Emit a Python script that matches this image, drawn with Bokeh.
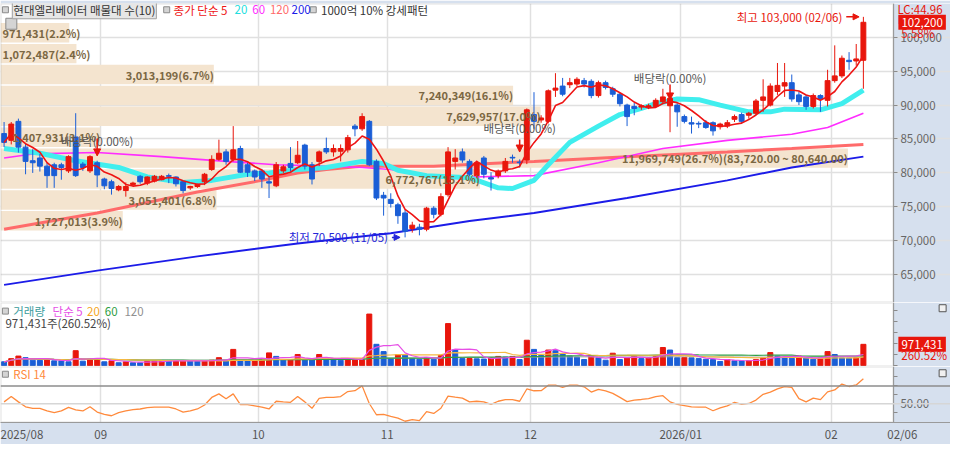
import numpy as np
import pandas as pd
from bokeh.plotting import figure
from bokeh.models import (ColumnDataSource, FixedTicker, NumeralTickFormatter, Label,
                          Span, Range1d, Grid, Arrow, NormalHead, LinearAxis, BoxAnnotation)
from bokeh.layouts import column
from bokeh.embed import file_html
from bokeh.resources import INLINE
from bokeh.core.properties import value

FONT = "Noto Sans CJK KR"

# ---------------- data ----------------
month_start_idx = [0, 14, 36, 54, 74, 95, 116]
month_labels = ["2025/08", "09", "10", "11", "12", "2026/01", "02"]
last_date_label = "02/06"

open_k = [85.8, 84.8, 87.6, 83.8, 81.8, 82.2, 81.0, 81.2, 81.2, 80.3,
          85.3, 81.3, 80.3, 81.5, 79.1, 78.7, 77.5, 77.4, 78.3, 79.5,
          78.5, 78.8, 79.0, 79.6, 79.4, 78.7, 77.8, 78.0, 78.7, 80.5,
          82.0, 83.1, 82.0, 83.6, 81.2, 80.3, 80.3, 78.7, 78.1, 80.3,
          81.4, 81.5, 84.1, 81.2, 81.7, 83.6, 83.1, 83.2, 83.4, 86.9,
          86.5, 87.6, 81.7, 76.7, 76.1, 75.3, 74.1, 71.8, 72.0, 71.7,
          74.8, 73.9, 76.8, 81.7, 83.1, 81.7, 79.6, 82.2, 79.3, 79.6,
          80.3, 82.3, 81.6, 81.9, 88.6, 87.8, 87.6, 92.2, 92.8, 93.0,
          93.1, 93.6, 93.5, 91.4, 93.3, 92.4, 91.6, 90.0, 89.8, 89.7,
          89.7, 89.8, 90.5, 89.9, 90.0, 88.3, 87.4, 87.3, 87.4, 87.4,
          86.8, 86.9, 87.9, 88.6, 88.5, 88.8, 90.7, 90.0, 92.0, 92.8,
          93.3, 91.5, 91.2, 89.8, 91.4, 90.7, 93.6, 94.3, 96.6, 96.5,
          96.6]
high_k = [87.5, 87.5, 88.0, 84.3, 83.5, 82.8, 81.5, 81.5, 81.5, 82.6,
          88.8, 81.6, 82.6, 81.8, 79.3, 79.0, 78.2, 78.6, 78.7, 79.7,
          79.5, 79.7, 79.7, 79.9, 79.5, 78.8, 78.1, 78.4, 80.0, 82.6,
          84.9, 83.5, 86.9, 84.0, 81.5, 80.5, 80.6, 79.4, 81.6, 81.2,
          83.8, 84.7, 84.3, 81.6, 83.3, 85.2, 84.2, 84.2, 85.6, 87.2,
          88.8, 87.8, 82.0, 77.2, 77.0, 75.6, 74.6, 72.8, 72.5, 75.0,
          75.1, 77.0, 83.8, 83.5, 83.6, 82.0, 81.8, 82.5, 80.1, 80.5,
          82.2, 82.7, 82.0, 89.5, 91.9, 88.5, 92.3, 94.7, 94.0, 94.0,
          94.1, 94.0, 93.8, 93.6, 93.6, 92.7, 91.8, 90.2, 90.3, 90.1,
          90.2, 91.0, 92.4, 91.0, 90.3, 88.6, 88.3, 87.6, 87.8, 87.6,
          87.4, 87.8, 88.6, 88.9, 89.0, 90.9, 93.8, 93.2, 96.2, 96.2,
          94.5, 92.0, 91.5, 91.7, 91.6, 95.2, 98.8, 97.3, 97.8, 99.0,
          103.0]
low_k = [83.8, 84.2, 83.0, 79.8, 80.0, 80.2, 77.8, 77.8, 79.0, 80.0,
         79.4, 80.3, 80.0, 77.9, 77.6, 76.8, 77.3, 76.5, 78.0, 78.4,
         78.2, 78.6, 78.9, 78.5, 78.0, 77.0, 77.5, 77.8, 78.2, 80.3,
         81.8, 81.2, 81.7, 80.0, 79.4, 78.8, 77.8, 76.3, 77.9, 80.0,
         80.2, 81.3, 80.5, 78.3, 81.0, 82.8, 82.4, 81.7, 83.0, 85.4,
         86.2, 81.0, 76.0, 73.7, 74.9, 72.5, 70.5, 71.2, 70.8, 71.4,
         73.3, 73.6, 76.5, 80.5, 81.5, 79.5, 79.2, 79.2, 77.4, 79.2,
         80.0, 81.5, 80.8, 81.3, 86.5, 87.4, 87.3, 91.2, 91.3, 92.5,
         92.8, 92.6, 91.0, 91.1, 92.3, 91.2, 89.8, 86.9, 88.5, 89.3,
         89.4, 89.6, 90.2, 86.0, 86.8, 87.3, 85.8, 86.6, 86.5, 85.5,
         86.4, 86.6, 87.5, 87.3, 88.0, 88.5, 89.0, 89.8, 91.5, 91.2,
         90.5, 90.0, 89.3, 89.5, 89.0, 89.8, 93.3, 94.0, 95.2, 95.8,
         92.4]
close_k = [84.5, 87.2, 83.8, 81.7, 81.5, 81.0, 79.6, 79.6, 80.8, 82.4,
           79.6, 80.8, 82.4, 79.7, 78.1, 77.7, 78.0, 78.0, 78.5, 78.7,
           79.4, 79.5, 79.5, 79.5, 78.4, 77.4, 78.0, 78.3, 79.8, 82.0,
           82.9, 81.7, 83.4, 80.1, 80.1, 79.4, 79.1, 78.5, 81.2, 80.9,
           80.8, 82.6, 81.0, 79.1, 83.1, 83.1, 83.6, 83.6, 85.2, 86.5,
           88.3, 81.2, 76.3, 76.3, 75.5, 73.7, 71.4, 72.3, 71.7, 74.8,
           73.9, 76.5, 83.1, 82.2, 81.9, 79.8, 81.5, 79.8, 79.1, 80.3,
           81.7, 82.2, 81.5, 89.3, 87.6, 88.1, 92.1, 92.5, 91.6, 93.3,
           93.8, 93.1, 91.4, 93.3, 92.6, 91.6, 90.2, 88.3, 89.5, 89.9,
           89.9, 90.7, 91.2, 91.0, 89.0, 87.6, 87.2, 87.2, 86.7, 86.2,
           87.2, 87.4, 88.3, 87.6, 88.8, 90.6, 91.2, 92.8, 92.9, 93.3,
           90.9, 90.5, 89.8, 91.4, 90.9, 93.6, 94.3, 96.9, 96.4, 96.8,
           102.2]
volume = [174000, 319000, 436000, 363000, 247000, 240000, 290000, 218000, 215000, 174000,
          682000, 203000, 290000, 300000, 174000, 218000, 131000, 174000, 131000, 128000,
          218000, 220000, 222000, 215000, 220000, 222000, 215000, 212000, 218000, 247000,
          363000, 218000, 740000, 218000, 212000, 218000, 320000, 581000, 421000, 276000,
          280000, 508000, 276000, 270000, 508000, 320000, 315000, 247000, 290000, 295000,
          300000, 2352000, 973000, 639000, 320000, 494000, 485000, 320000, 290000, 363000,
          290000, 465000, 1917000, 726000, 320000, 325000, 310000, 300000, 363000, 420000,
          390000, 420000, 276000, 1159000, 740000, 465000, 711000, 680000, 537000, 435000,
          392000, 276000, 435000, 363000, 247000, 566000, 276000, 363000, 435000, 320000,
          363000, 435000, 827000, 711000, 363000, 370000, 355000, 320000, 290000, 276000,
          189000, 276000, 218000, 215000, 218000, 276000, 348000, 595000, 435000, 377000,
          334000, 435000, 348000, 290000, 348000, 639000, 508000, 348000, 340000, 372878,
          971431]
rsi14 = [52, 58, 52, 46.5, 44.8, 44.8, 41.8, 40, 41.8, 45.8,
         43, 41.8, 46.5, 40.5, 38, 36.4, 40, 41.8, 43.2, 44,
         45.5, 46, 46, 46, 44, 40.4, 41.8, 44, 48.5, 57,
         61, 55.6, 61, 49, 49, 47.5, 46, 44, 52.7, 52,
         51.5, 58, 52, 44.8, 56, 57, 57, 58, 63.6, 64.6,
         70, 50.2, 37.5, 38, 35.7, 33.8, 30.2, 32, 31, 41,
         39, 44.8, 58.5, 57.3, 56.3, 52, 52.7, 52, 49.1, 52.7,
         54.6, 54.6, 52.7, 66.5, 64.5, 64.6, 70.8, 70.8, 68.3, 70.8,
         70.8, 69, 63, 66, 64.5, 61.5, 57, 52.3, 54, 54.7,
         55.6, 58, 59, 52, 49.1, 47.8, 46.3, 46, 46, 42,
         45.2, 47.5, 51.5, 49.1, 50.2, 54, 60.5, 63, 66.6, 69.2,
         68.3, 55.6, 52, 56.3, 54.6, 63.3, 65.4, 72, 69.3, 71,
         78]

# long moving averages (at the listed candle indices)
ma20_idx = [0, 5, 10, 16, 20, 25, 29, 34, 37, 41, 45, 50, 53, 55, 59, 65, 69, 71, 74, 76,
            79, 83, 86, 89, 91, 94, 97, 100, 104, 107, 109, 114, 117, 120]
ma20_k = [83.6, 82.9, 81.8, 80.8, 79.4, 78.6, 78.9, 79.8, 80.0, 80.5, 80.8, 81.7, 81.4, 80.4,
          79.6, 79.3, 77.8, 77.7, 78.9, 81.2, 84.5, 86.9, 88.6, 89.5, 90.2, 90.9, 90.8, 90.0,
          89.0, 89.0, 89.4, 89.3, 90.2, 92.2]
ma60_idx = [0, 4, 13, 22, 31, 38, 45, 50, 54, 59, 65, 74, 83, 92, 101, 110, 115, 120]
ma60_k = [82.2, 82.8, 83.0, 82.4, 81.7, 81.2, 81.0, 80.8, 80.5, 79.6, 79.4, 79.6, 81.5, 83.6,
          84.8, 85.7, 86.7, 88.8]
ma120_idx = [0, 13, 27, 36, 41, 45, 50, 60, 74, 87, 101, 110, 120]
ma120_k = [71.7, 74.1, 77.2, 78.9, 80.0, 80.5, 81.0, 81.0, 81.7, 82.4, 83.1, 83.6, 84.2]
ma200_idx = [0, 13, 27, 41, 54, 65, 74, 87, 101, 110, 120]
ma200_k = [63.5, 65.6, 67.7, 69.6, 71.1, 72.9, 74.1, 76.3, 78.9, 80.8, 82.4]

# volume profile (매물대), top band first
band_bottom = [99120, 96040, 92960, 89880, 86800, 83720, 80640, 77560, 74480, 71400]
band_step = 3080
band_volume = [971431, 1072487, 3013199, 7240349, 7629957, 1407931, 11969749, 6772767, 3051401, 1727013]
band_pct = ["2.2", "2.4", "6.7", "16.1", "17.0", "3.1", "26.7", "15.1", "6.8", "3.9"]

exdiv_idx = [13, 72, 93]
high_idx, high_val, high_date = 120, 103000, "02/06"
low_idx, low_val, low_date = 56, 70500, "11/05"

# ---------------- derived ----------------
n = len(close_k)
idx = np.arange(n)
o = np.array(open_k) * 1000
h = np.array(high_k) * 1000
l = np.array(low_k) * 1000
c = np.array(close_k) * 1000
vol = np.array(volume, dtype=float)

# ---------------- layout constants ----------------
# x is the candle index; the reference plot area spans 908 px, then a 58 px value strip
REF_PLOT_W = 908.0
X0, X1 = -0.5, 124.2
XS = X0 + 966.0 * (X1 - X0) / REF_PLOT_W       # right edge incl. value strip
P_TOP, P_BOT = 104968.0, 60903.0
V_TOP, V_BOT = 2880000.0, -40000.0
R_TOP, R_BOT = 91.8, 28.8
FW = 950
AXIS_BG = "#d6e0ee"
RED = "#e8160c"
BLUE = "#1a5ed6"
GRID = "#e0e0e0"
EDGE = "#9a9a9a"


def ix(px):
    return X0 + px * (X1 - X0) / REF_PLOT_W


def py(px):
    return P_TOP - (px - 3.0) * (P_TOP - P_BOT) / 310.0


def vy(px):
    return V_TOP - (px - 313.0) * (V_TOP - V_BOT) / 67.0


def ry(px):
    return R_TOP - (px - 380.0) * (R_TOP - R_BOT) / 58.0


xr = Range1d(X0, XS)
month_ticks = [m - 0.5 for m in month_start_idx]


def make_fig(fh, yr, top, bottom, yticks, xloc=None):
    p = figure(frame_width=FW, frame_height=fh, x_range=xr, y_range=yr,
               output_backend="svg", toolbar_location=None,
               x_axis_location=xloc, y_axis_location=None,
               min_border_left=0, min_border_right=0,
               min_border_top=top, min_border_bottom=bottom)
    p.grid.visible = False
    p.border_fill_color = AXIS_BG
    p.background_fill_color = "white"
    p.outline_line_color = None
    p.add_layout(Grid(dimension=0, ticker=FixedTicker(ticks=month_ticks),
                      grid_line_color=GRID, grid_line_width=1.5))
    # value strip background on the right
    p.add_layout(BoxAnnotation(left=X1, fill_color=AXIS_BG, fill_alpha=1.0,
                               line_color=None, level="underlay"))
    # panel border
    p.add_layout(BoxAnnotation(right=X1, fill_alpha=0.0, line_color=EDGE,
                               line_width=2))
    ax = LinearAxis(fixed_location=X1, ticker=FixedTicker(ticks=yticks))
    ax.major_label_text_font = FONT
    ax.major_label_text_font_size = "11.5px"
    ax.major_label_text_color = "#666666"
    ax.major_tick_out = 4
    ax.major_tick_in = 0
    ax.major_tick_line_color = "#8a8a8a"
    ax.minor_tick_line_color = None
    ax.axis_line_color = EDGE
    ax.major_label_standoff = 3
    p.add_layout(ax, "right")
    return p, ax


def add_label(p, x, y, text, color, size="11.5px", align="left", bold=False, **kw):
    p.add_layout(Label(x=x, y=y, text=text, text_color=color, text_font=FONT,
                       text_font_size=size, text_align=align, text_baseline="middle",
                       text_font_style="bold" if bold else "normal", **kw))


def legend_square(p, x, y, size=6, fill="#d4d4d4", line="#8a8a8a"):
    p.scatter(x=[x], y=[y], marker="square", size=size, fill_color=fill,
              line_color=line, line_width=1)


# ================= main price panel =================
price_ticks = list(range(65000, 100001, 5000))
p1, ax1 = make_fig(299, Range1d(P_BOT, P_TOP), 3, 0, price_ticks)
ax1.formatter = NumeralTickFormatter(format="0,0")
p1.add_layout(Grid(dimension=1, ticker=FixedTicker(ticks=price_ticks),
                   grid_line_color=GRID, grid_line_width=1.5))

# volume profile bands
bvol = np.array(band_volume, dtype=float)
b_right = X0 + bvol / bvol.max() * 0.949 * (X1 - X0)
b_center = np.array(band_bottom, dtype=float) + band_step / 2
p1.hbar(y=b_center, height=band_step * 0.93, left=X0, right=b_right,
        fill_color="#f4e4cf", line_color=None)

# long moving averages
p1.line(ma200_idx, np.array(ma200_k) * 1000, line_color="#1c1ce8", line_width=2)
p1.line(ma120_idx, np.array(ma120_k) * 1000, line_color="#ff6b6b", line_width=3)
p1.line(ma60_idx, np.array(ma60_k) * 1000, line_color="#ff2cff", line_width=1.6)
p1.line(ma20_idx, np.array(ma20_k) * 1000, line_color="#40eeee", line_width=5)

# candles
ccol = [RED if cc >= oo else BLUE for oo, cc in zip(o, c)]
csrc = ColumnDataSource(dict(x=idx, h=h, l=l, top=np.maximum(o, c), bot=np.minimum(o, c), col=ccol))
p1.segment(x0="x", y0="l", x1="x", y1="h", line_color="col", line_width=1, source=csrc)
p1.vbar(x="x", width=0.68, top="top", bottom="bot", fill_color="col", line_color="col", source=csrc)

# 5-day moving average of the closes
ma5 = pd.Series(c).rolling(5, min_periods=1).mean().values
p1.line(idx, ma5, line_color="#ee1414", line_width=1.6)

# band labels: right-aligned at the band end, or starting at the left edge for narrow bands
b_text = [f"{v:,}({pc}%)" for v, pc in zip(band_volume, band_pct)]
kmax = int(np.argmax(bvol))
b_text[kmax] += f"({band_bottom[kmax] + band_step:,}.00 ~ {band_bottom[kmax]:,}.00)"
narrow = b_right < ix(100)
bl_x = np.where(narrow, ix(2), b_right)
bl_align = ["left" if nw else "right" for nw in narrow]
p1.text(x=bl_x, y=b_center, text=b_text, text_align=bl_align, text_baseline="middle",
        text_font=value(FONT), text_font_size="11px", text_font_style="bold",
        text_color="#7b6742")

# ex-dividend markers
exdiv_layout = {13: (146, 143, 161), 72: (132, 144, 157), 93: (80, 87, 103)}
for k in exdiv_idx:
    ty, a0, a1 = exdiv_layout[k]
    add_label(p1, k, py(ty), "배당락(0.00%)", "#555555", align="center")
    p1.add_layout(Arrow(end=NormalHead(size=7, fill_color=RED, line_color=RED),
                        x_start=k, y_start=py(a0), x_end=k, y_end=py(a1),
                        line_color=RED, line_width=1.5))

# highest / lowest markers
add_label(p1, ix(856), high_val, f"최고 {high_val:,} ({high_date})", RED, align="right")
p1.add_layout(Arrow(end=NormalHead(size=6, fill_color=RED, line_color=RED),
                    x_start=ix(860), y_start=high_val, x_end=high_idx - 0.6, y_end=high_val,
                    line_color=RED, line_width=1.5))
add_label(p1, ix(394), low_val, f"최저 {low_val:,} ({low_date})", "#2525d8", align="right")
p1.add_layout(Arrow(end=NormalHead(size=6, fill_color="#2525d8", line_color="#2525d8"),
                    x_start=ix(398), y_start=low_val, x_end=low_idx - 0.7, y_end=low_val,
                    line_color="#2525d8", line_width=1.5))

# legend row
yl = py(9.5)
legend_square(p1, ix(5), yl)
add_label(p1, ix(12), yl, "현대엘리베이터 매물대 수(10)", "#333333",
          background_fill_color="#e6e6e6", border_line_color="#a0a0a0", padding=1)
legend_square(p1, ix(169), yl)
add_label(p1, ix(176), yl, "종가 단순 5", "#ee1414")
add_label(p1, ix(238), yl, "20", "#22dede")
add_label(p1, ix(256), yl, "60", "#ff2cff")
add_label(p1, ix(274), yl, "120", "#ff6b6b")
add_label(p1, ix(296), yl, "200", "#1c1ce8")
legend_square(p1, ix(318), yl)
add_label(p1, ix(326), yl, "1000억 10% 강세패턴", "#333333")
legend_square(p1, ix(11), py(24), size=11)

# right-side value tags
add_label(p1, ix(912), py(9), "LC:44.96", RED)
add_label(p1, ix(912), py(19), "HC:8.73", "#2f6fd6")
add_label(p1, ix(913), c[-1], f"{int(c[-1]):,}", "white", background_fill_color=RED, padding=3)
add_label(p1, ix(916), py(34), f"{(c[-1] / c[-2] - 1) * 100:.2f}%", RED)

# ================= volume panel =================
vticks = [0, 500000, 1000000, 1500000, 2000000, 2500000]
p2, ax2 = make_fig(64, Range1d(V_BOT, V_TOP), 0, 0, vticks)
ax2.major_label_overrides = {t: "" for t in vticks}
vcol = [BLUE] + [RED if vol[i] > vol[i - 1] else BLUE for i in range(1, n)]
p2.vbar(x=idx, width=0.7, top=vol, bottom=0, fill_color=vcol, line_color=vcol)
vs = pd.Series(vol)
p2.line(idx, vs.rolling(120, min_periods=1).mean().values, line_color="#a8a8a8", line_width=1)
p2.line(idx, vs.rolling(60, min_periods=1).mean().values, line_color="#2f9e44", line_width=1.2)
p2.line(idx, vs.rolling(20, min_periods=1).mean().values, line_color="#f5b942", line_width=1.2)
p2.line(idx, vs.rolling(5, min_periods=1).mean().values, line_color="#e64ee6", line_width=1.2)

yv = vy(322)
legend_square(p2, ix(5), yv)
add_label(p2, ix(13), yv, "거래량", "#3a9c9c")
add_label(p2, ix(53), yv, "단순 5", "#e64ee6")
add_label(p2, ix(88), yv, "20", "#f5a623")
add_label(p2, ix(106), yv, "60", "#2f9e44")
add_label(p2, ix(126), yv, "120", "#909090")
pct_prev = vol[-1] / vol[-2] * 100
add_label(p2, ix(5), vy(334), f"{int(vol[-1]):,}주({pct_prev:.2f}%)", "#444444")
add_label(p2, ix(913), vol[-1], f"{int(vol[-1]):,}", "white", background_fill_color=RED, padding=3)
add_label(p2, ix(916), vy(368), f"{pct_prev:.2f}%", RED)
legend_square(p2, ix(958), vy(319), size=7, fill="#f0f0f0", line="#555555")

# ================= RSI panel =================
rticks = [40, 50, 60, 70, 80]
p3, ax3 = make_fig(56, Range1d(R_BOT, R_TOP), 0, 18, rticks, xloc="below")
ax3.major_label_overrides = {40: "", 50: "50.00", 60: "", 70: "", 80: ""}
p3.add_layout(Span(location=70, dimension="width", line_color="#8c8c8c", line_width=1.5))
p3.add_layout(Span(location=50, dimension="width", line_color="#d6d6d6", line_width=1.5))
p3.line(idx, rsi14, line_color="#ff8a3c", line_width=1.3)
yr_ = ry(388)
legend_square(p3, ix(5), yr_)
add_label(p3, ix(13), yr_, "RSI 14", "#ff8a3c")
legend_square(p3, ix(958), ry(387), size=7, fill="#f0f0f0", line="#555555")

xticks = month_ticks + [ix(917)]
xa = p3.xaxis[0]
xa.ticker = FixedTicker(ticks=xticks)
xa.major_label_overrides = {t: lab for t, lab in zip(xticks, month_labels + [last_date_label])}
xa.major_label_text_align = "left"
xa.major_label_text_font = FONT
xa.major_label_text_font_size = "11.5px"
xa.major_label_text_color = "#555555"
xa.major_tick_out = 0
xa.major_tick_in = 0
xa.minor_tick_line_color = None
xa.axis_line_color = EDGE
xa.major_label_standoff = 3

layout = column(p1, p2, p3, spacing=0)
open("out.html", "w").write(file_html(layout, INLINE))
